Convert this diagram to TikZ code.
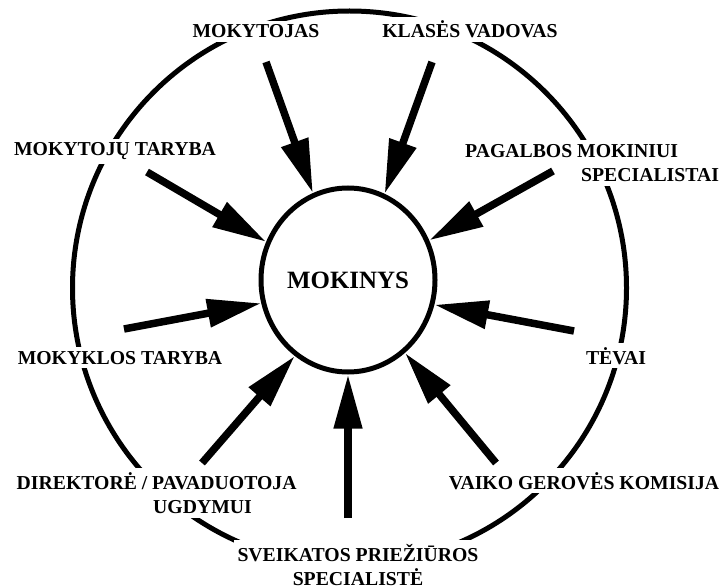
\documentclass[tikz,border=0pt]{standalone}
\usepackage{fontspec}
\setmainfont{Liberation Serif}
\usetikzlibrary{arrows.meta, shapes.geometric}
\tikzset{
  label box/.style={fill=white, inner sep=4bp, font=\bfseries\fontsize{19.8}{24.5}\selectfont},
  ring/.style={line width=5bp},
  push/.style={line width=7.5bp, -{Triangle[length=54bp,width=27bp]}},
}

\begin{document}
\begin{tikzpicture}[x=1bp, y=-1bp]
  \useasboundingbox (0,0) rectangle (723,588);
  \draw[ring] (349.5,288) circle[radius=277];
  \node[ring, draw, ellipse, minimum width=174bp, minimum height=184bp, inner sep=0pt,
        font=\bfseries\fontsize{25}{30}\selectfont] (mokinys) at (348,280) {MOKINYS};

  % labels sit on their (last) baselines
  \node[label box, anchor=base] (mokytojas) at (256,38) {MOKYTOJAS};
  \node[label box, anchor=base] (vadovas) at (470,38) {KLASĖS VADOVAS};
  \node[label box, anchor=base] (mtaryba) at (115,156) {MOKYTOJŲ TARYBA};
  \node[label box, anchor=base west, align=left] (pagalba) at (461,181.5)
    {PAGALBOS MOKINIUI\\\hspace*{116bp}SPECIALISTAI};
  \node[label box, anchor=base] (mokykla) at (120,364) {MOKYKLOS TARYBA};
  \node[label box, anchor=base] (tevai) at (616,364) {TĖVAI};
  \node[label box, anchor=base west, align=left] (direktore) at (12.5,513.5)
    {DIREKTORĖ / PAVADUOTOJA\\\hspace*{136.5bp}UGDYMUI};
  \node[label box, anchor=base] (vaiko) at (584,489) {VAIKO GEROVĖS KOMISIJA};
  \node[label box, anchor=base] (sveikatos) at (358,561) {SVEIKATOS PRIEŽIŪROS};
  \node[label box, anchor=base] (specialiste) at (358,585) {SPECIALISTĖ};

  % arrow tails
  \coordinate (t-mokytojas) at (266,62);
  \coordinate (t-vadovas) at (432,62);
  \coordinate (t-mtaryba) at (147,172);
  \coordinate (t-pagalba) at (553,171);
  \coordinate (t-mokykla) at (124,329);
  \coordinate (t-tevai) at (574,331);
  \coordinate (t-direktore) at (202,463);
  \coordinate (t-sveikatos) at (348,518);
  \coordinate (t-vaiko) at (496,463);

  \foreach \from/\ang in {mokytojas/112, vadovas/67, mtaryba/155, pagalba/26, mokykla/195,
      tevai/344, direktore/235, sveikatos/270, vaiko/308}
    \draw[push] (t-\from) -- (mokinys.\ang);
\end{tikzpicture}
\end{document}
